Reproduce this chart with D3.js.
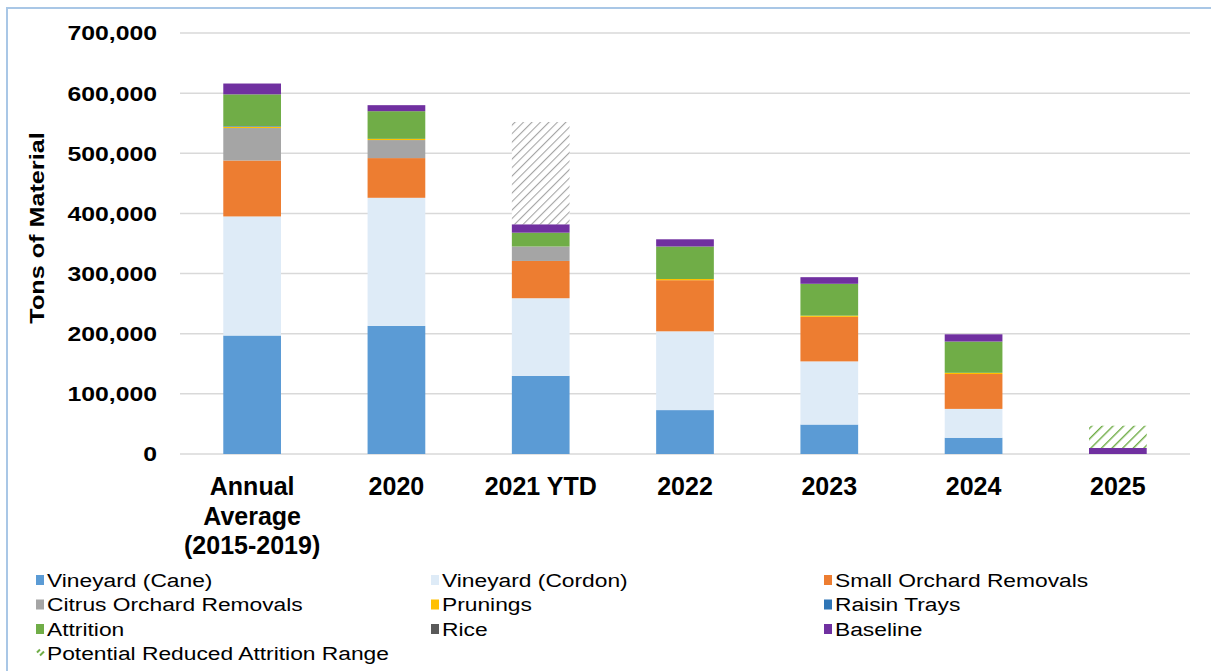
<!DOCTYPE html>
<html>
<head>
<meta charset="utf-8">
<script src="https://cdn.jsdelivr.net/npm/d3@7"></script>
<style>
  html, body { margin: 0; padding: 0; background: #fff; }
  svg { display: block; font-family: "Liberation Sans", Arial, sans-serif; }
</style>
</head>
<body>
<svg id="chart" width="1211" height="671"></svg>
<script>
// ---- data ----
const categories = ["Annual Average (2015-2019)", "2020", "2021 YTD", "2022", "2023", "2024", "2025"];
const categoryLines = [["Annual", "Average", "(2015-2019)"], ["2020"], ["2021 YTD"], ["2022"], ["2023"], ["2024"], ["2025"]];
const vineyardCane    = [197000, 213000, 130000,  73000,  49000, 27000,     0];
const vineyardCordon  = [198000, 213000, 129000, 131000, 105000, 48000,     0];
const smallOrchard    = [ 93000,  66000,  62000,  85000,  74000, 58000,     0];
const citrusOrchard   = [ 54000,  30000,  24000,      0,      0,     0,     0];
const prunings        = [  2000,   2000,      0,   2000,   2000,  2000,     0];
const raisinTrays     = [  1000,      0,      0,      0,      0,     0,     0];
const attrition       = [ 53000,  46000,  23000,  54000,  53000, 52000,     0];
const rice            = [     0,      0,      0,      0,      0,     0,     0];
const baseline        = [ 18000,  10000,  14000,  12000,  11000, 12000, 10000];
const potentialRange  = [     0,      0,      0,      0,      0,     0, 37000];
const remaining2021   = [     0,      0, 170000,      0,      0,     0,     0];
const yTicks = [0, 100000, 200000, 300000, 400000, 500000, 600000, 700000];

const seriesKeys   = ["cane", "cordon", "orchard", "citrus", "prunings", "raisin", "attrition", "rice", "baseline", "potential", "remaining"];
const seriesNames  = ["Vineyard (Cane)", "Vineyard (Cordon)", "Small Orchard Removals", "Citrus Orchard Removals", "Prunings", "Raisin Trays", "Attrition", "Rice", "Baseline", "Potential Reduced Attrition Range", ""];
const seriesValues = [vineyardCane, vineyardCordon, smallOrchard, citrusOrchard, prunings, raisinTrays, attrition, rice, baseline, potentialRange, remaining2021];
const seriesColors = ["#5b9bd5", "#deebf7", "#ed7d31", "#a5a5a5", "#ffc000", "#2e75b6", "#70ad47", "#595959", "#7030a0", "url(#hatchGreen)", "url(#hatchGray)"];

// ---- build table ----
const table = categories.map((c, i) => {
  const row = { category: c };
  seriesKeys.forEach((k, j) => row[k] = seriesValues[j][i]);
  return row;
});

const svg = d3.select("#chart");
const defs = svg.append("defs");
function hatch(id, color, size, width) {
  const p = defs.append("pattern").attr("id", id).attr("patternUnits", "userSpaceOnUse")
    .attr("width", size).attr("height", size).attr("patternTransform", "rotate(45)");
  p.append("rect").attr("width", size).attr("height", size).attr("fill", "#fff");
  p.append("line").attr("x1", 0).attr("y1", 0).attr("x2", 0).attr("y2", size)
    .attr("stroke", color).attr("stroke-width", width);
}
hatch("hatchGray", "#a6a6a6", 6, 2.2);
hatch("hatchGreen", "#70ad47", 7.5, 2.8);

// frame
svg.append("path").attr("d", "M7,671 L7,8 L1211,8").attr("fill", "none")
  .attr("stroke", "#a9c7e6").attr("stroke-width", 2);

const x = d3.scaleBand().domain(categories).range([180, 1190]).paddingInner(0.6).paddingOuter(0.3);
const y = d3.scaleLinear().domain([0, 700000]).range([454, 33]);

// gridlines
svg.append("g").selectAll("line").data(yTicks).join("line")
  .attr("x1", 180).attr("x2", 1190)
  .attr("y1", d => y(d)).attr("y2", d => y(d))
  .attr("stroke", "#d9d9d9").attr("stroke-width", 1.5);

// y axis labels
const yAxis = d3.axisLeft(y).tickValues(yTicks).tickSize(0).tickPadding(0).tickFormat(d3.format(","));
const yg = svg.append("g").attr("transform", "translate(157,0)").call(yAxis);
yg.select(".domain").remove();
yg.selectAll("text").attr("font-size", 21).attr("font-weight", "bold").attr("fill", "#000")
  .attr("font-family", "Liberation Sans, Arial, sans-serif")
  .attr("x", 0).attr("dy", "0.33em")
  .attr("transform", d => `translate(0,${y(d)}) scale(1.18,1) translate(0,${-y(d)})`);

// y title
svg.append("text").attr("transform", "translate(44,228) rotate(-90) scale(1.2,1)")
  .attr("text-anchor", "middle").attr("font-size", 21).attr("font-weight", "bold")
  .text("Tons of Material");

// stacked bars
const stack = d3.stack().keys(seriesKeys)(table);
svg.append("g").selectAll("g").data(stack).join("g")
  .attr("fill", (d, i) => seriesColors[i])
  .selectAll("rect").data(d => d).join("rect")
  .attr("x", d => x(d.data.category))
  .attr("width", x.bandwidth())
  .attr("y", d => y(d[1]))
  .attr("height", d => Math.max(0, y(d[0]) - y(d[1])));

// x labels
const xl = svg.append("g");
categories.forEach((c, i) => {
  const t = xl.append("text").attr("x", x(c) + x.bandwidth() / 2).attr("y", 495)
    .attr("text-anchor", "middle").attr("font-size", 25).attr("font-weight", "bold").attr("fill", "#000");
  categoryLines[i].forEach((line, j) => {
    t.append("tspan").attr("x", x(c) + x.bandwidth() / 2).attr("dy", j === 0 ? 0 : 29.5).text(line);
  });
});

// legend
const legendCols = [36, 431, 824];
const legendRows = [580, 604.5, 629, 653.5];
const lg = svg.append("g");
seriesNames.forEach((name, i) => {
  if (!name) return;
  const cx = legendCols[i % 3], cy = legendRows[Math.floor(i / 3)];
  const g = lg.append("g").attr("transform", `translate(${cx},${cy})`);
  if (seriesKeys[i] === "potential") {
    g.append("line").attr("x1", 1).attr("y1", 4).attr("x2", 4).attr("y2", 1)
      .attr("stroke", "#70ad47").attr("stroke-width", 2);
    g.append("line").attr("x1", 4).attr("y1", 7).attr("x2", 8).attr("y2", 3)
      .attr("stroke", "#70ad47").attr("stroke-width", 2);
    g.selectAll("line").attr("transform", "translate(0,-5)");
  } else {
    g.append("rect").attr("x", 0).attr("y", -5).attr("width", 8).attr("height", 10).attr("fill", seriesColors[i]);
  }
  g.append("text").attr("x", 11).attr("y", 0).attr("dy", "0.35em")
    .attr("font-size", 19).attr("fill", "#000")
    .attr("transform", "translate(11,0) scale(1.2,1) translate(-11,0)")
    .text(name);
});
</script>
</body>
</html>
